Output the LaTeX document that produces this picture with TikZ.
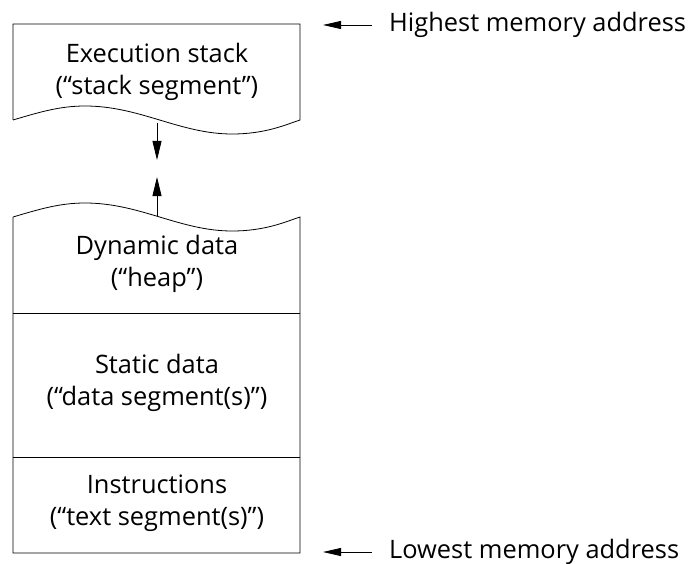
\documentclass[tikz,border=0pt]{standalone}
\usepackage{fontspec}
\setmainfont{Open Sans}
\usepackage{tikz}
\usetikzlibrary{arrows.meta, positioning, calc}
\tikzset{
  segtext/.style={align=center, inner sep=0pt, font=\fontsize{25.5}{32}\selectfont},
  marktext/.style={anchor=west, inner sep=0pt, font=\fontsize{25.5}{32}\selectfont},
  segline/.style={line width=0.8bp},
  arrow/.style={line width=0.8bp, -{Triangle[length=19bp,width=9bp]}},
  sidearrow/.style={line width=0.8bp, -{Triangle[length=18bp,width=8bp]}}
}
\begin{document}
\begin{tikzpicture}[x=1bp, y=-1bp]
        \useasboundingbox (0,0) rectangle (694,564);

        % Nodes
        \node (stack) [segtext] at (157,72) {Execution stack\\(“stack segment”)};
        \node (heap) [segtext] at (157,264) {Dynamic data\\(“heap”)};
        \node (static) [segtext] at (157,383) {Static data\\(“data segment(s)”)};
        \node (instr) [segtext] at (157,503) {Instructions\\(“text segment(s)”)};

        \node (highest) [marktext] at (389,25) {Highest memory address};
        \node (lowest) [marktext] at (389,552) {Lowest memory address};

        \coordinate (stack_end) at (157,123);
        \coordinate (stack_grow) at (157,160);
        \coordinate (heap_end) at (157,216);
        \coordinate (heap_grow) at (157,177);
        \coordinate (top_mark) at (323,25);
        \coordinate (bottom_mark) at (323,552);

        % Boxes
        \draw [segline] (13,120) -- (13,24) -- (300,24) -- (300,120)
          .. controls (285,125) and (265,134) .. (232,134)
          .. controls (180,134) and (140,106) .. (85,106)
          .. controls (60,106) and (40,112) .. (13,120);
        \draw [segline] (13,217) -- (13,553) -- (300,553) -- (300,217)
          .. controls (285,222) and (265,231) .. (232,231)
          .. controls (180,231) and (140,203) .. (85,203)
          .. controls (60,203) and (40,209) .. (13,217);
        \draw [segline] (13,313) -- (300,313);
        \draw [segline] (13,457) -- (300,457);

        % Paths
        \draw [arrow] (stack_end) -- (stack_grow);
        \draw [arrow] (heap_end) -- (heap_grow);
        \draw [sidearrow] (highest.west) ++(-17,0) -- (top_mark);
        \draw [sidearrow] (lowest.west) ++(-17,0) -- (bottom_mark);
\end{tikzpicture}
\end{document}
